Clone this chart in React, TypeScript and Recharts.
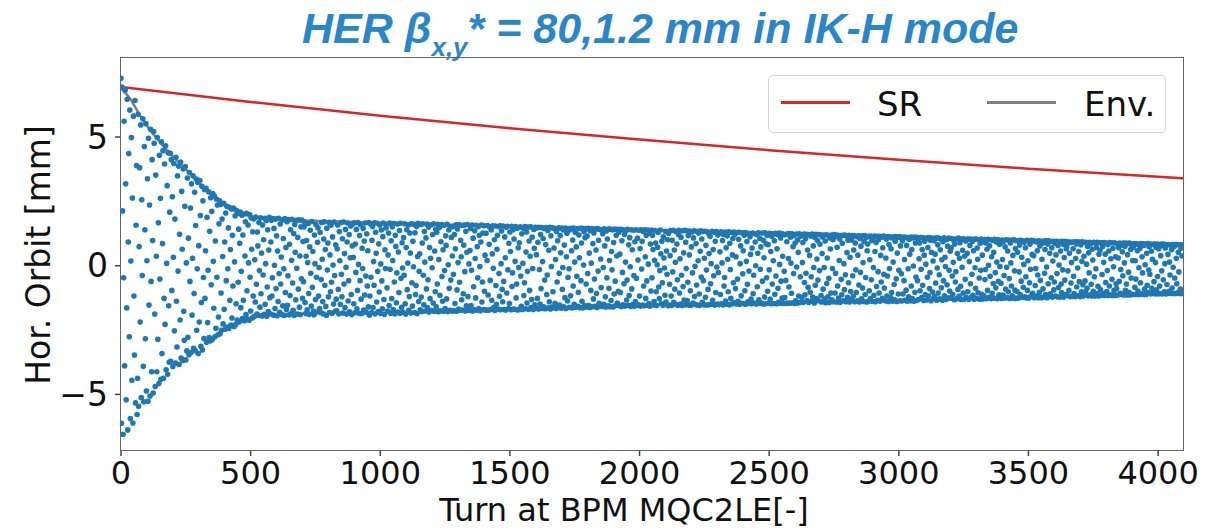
import { ComposedChart, Line, Scatter, XAxis, YAxis } from "recharts";

const xTicks = [0, 500, 1000, 1500, 2000, 2500, 3000, 3500, 4000];
const yTicks = [-5, 0, 5];

// synchrotron radiation damping curve
const srTurns = [0, 500, 1000, 1500, 2000, 2500, 3000, 3500, 4096];
const srOrbit = [6.94, 6.36, 5.83, 5.34, 4.9, 4.49, 4.12, 3.77, 3.4];

// envelope of the turn-by-turn orbit
const envTurns = [0, 35, 73, 110, 150, 200, 266, 343, 420, 498, 600, 700, 1115, 1500, 2000, 2620, 3000, 3500, 4096];
const envOrbit = [6.9, 6.49, 5.84, 5.3, 4.8, 4.25, 3.59, 2.81, 2.23, 1.92, 1.8, 1.76, 1.64, 1.52, 1.4, 1.25, 1.12, 0.98, 0.82];

// horizontal orbit at the BPM in 0.01 mm, one reading every second turn
const turnStep = 2;
const orbitHundredths = [
  728, -612, 694, 213, -655, -47, 561, -389, 682, 318, -521, -164, 647, -638, 92, 436, -276, 605, -594, 18, 498, -445, 263, -611, 581, -118, -347, 642, -533, 157, 389, -578,
  -437, 588, -546, 74, 381, -219, 547, -512, 256, -38, 571, -391, -529, 463, 140, -284, 552, -487, 19, 338, -527, 495, -153, 236, -506, 530, -61, -412, 412, 98, -495, 521,
  476, -188, -469, 352, 37, -412, 498, -286, 167, -458, 429, -52, 262, -441, 481, -341, 86, 447, -437, -127, 395, -228, 466, -404, 9, 311, -422, 439, -156, -375, 208, 437,
  -371, 412, -96, 268, -392, 33, 397, -253, 181, -378, 421, -138, -316, 349, -21, 387, -384, 122, -211, 403, -359, 289, 64, -368, 376, -177, -290, 231, 385, -366, 11, -331,
  341, -278, 107, -346, 362, -61, 224, -337, 318, -192, 29, 349, -321, -108, 285, -330, 156, 337, -251, -12, 324, -341, 78, -219, 331, 195, -313, -143, 309, -327, 252, -46,
  -283, 296, -127, 58, 301, -297, 188, -221, -18, 287, -279, 134, -292, 264, -74, 211, -287, 280, 17, -165, 271, -276, 96, -243, 259, -45, 236, -268, -199, 163, 252, -264,
  238, -106, -251, 181, 36, -226, 242, -169, 92, -247, 205, -58, 231, -238, -12, 147, -244, 227, -134, 63, -231, 220, -203, 118, -79, 224, -236, 15, 193, -229, -148, 214,
  -211, 203, -64, 142, -219, 87, 208, -163, -22, 196, -205, 119, -134, 201, -214, 38, 171, -190, 204, -97, -207, 158, 11, -212, 199, -45, -176, 186, 64, -203, 132, -118,
  182, -197, 23, -141, 189, -72, -188, 131, 77, -193, 168, -19, -161, 186, -109, 49, -195, 158, -36, 101, -189, 184, -150, 8, 176, -196, -83, 140, -178, 61, 188, -124,
  -187, 92, 177, -118, -47, 183, -192, 145, 2, -166, 181, -89, 116, -194, 57, -139, 184, -30, -181, 162, -71, 34, -190, 178, -156, 106, -12, -193, 183, -104, 71, -170,
  171, -154, -39, 179, -191, 83, -116, 140, -186, 21, 180, -67, -173, 125, -193, 160, 52, -132, 176, -10, -188, 110, -91, 178, -161, 38, -190, 151, -51, 177, -127, 94,
  -62, 151, 170, -143, -186, 37, 98, -171, 12, 164, -108, -189, 73, 138, -29, -157, 172, -84, 55, -176, -191, 119, 8, -131, 160, -45, -180, 91, 147, -118, -7, -166,
  129, -182, -54, 168, 25, -139, -187, 104, 171, -76, 63, -158, -193, 146, -17, 88, -121, 169, -182, 42, -101, 157, -64, -185, 112, 3, -149, 170, -38, -177, 81, -130,
  -175, 66, 158, -92, -187, 133, 19, -150, 168, -33, -121, 105, -184, 170, -71, 47, -163, 141, -6, -188, 92, 166, -137, -58, 121, -179, 31, 154, -112, -190, 77, 162,
  33, -148, 167, -183, 84, -26, 141, -167, -96, 168, 5, -185, 117, -58, 159, -130, -186, 68, -11, 145, -172, 96, -114, 166, -40, -181, 124, -79, 58, -160, 168, -192,
  -118, 163, -45, -183, 99, 152, -163, 16, -76, 167, -187, 130, 48, -141, 165, -22, -178, 85, -102, 158, -185, 7, 139, -59, -167, 113, 166, -131, -189, 62, -11, 147,
  160, -86, -176, 42, 127, -155, 166, -14, -185, 97, -128, 151, 20, -170, 164, -63, -187, 118, 75, -144, -28, 162, -180, 53, -104, 137, -185, 165, -49, -162, 89, -9,
  -181, 109, -37, 163, -148, -188, 71, 140, -93, 10, 158, -173, -120, 127, 49, -184, 163, -66, -157, 95, -4, 161, -182, 128, -112, -77, 152, -186, 36, 165, -139, -22,
  46, -171, 160, -122, -178, 88, 163, -37, -152, 133, 14, -176, 108, -90, 162, -163, -55, 150, -180, 71, -128, 29, 159, -174, -8, 121, -145, 163, -177, 57, -101, 141,
  -160, 130, -71, 161, -179, 24, 148, -115, -175, 93, 160, -42, -138, 62, -177, 157, -19, -166, 116, 79, -129, 161, -178, 4, 139, -88, -173, 151, -56, 110, -176, 38,
  152, -33, -175, 121, -147, 66, 159, -177, -94, 143, 12, -168, 160, -64, -174, 99, 35, -132, 156, -172, -109, 80, 158, -23, -176, 134, -156, 52, 160, -120, -171, 7,
  -174, 59, 145, -155, -18, 158, -176, 107, -82, -171, 136, 28, -125, 157, -173, 74, -47, 152, -166, 118, -3, -175, 92, 158, -141, -63, 127, -170, 155, -99, 41, -172,
  126, -172, 20, 156, -114, -173, 83, 150, -57, -170, 139, -134, 46, 155, -10, -163, 101, -174, 154, -77, -150, 64, 118, -168, 152, -30, -119, 155, -171, 8, 135, -92,
  -140, 154, -61, -170, 112, 31, -172, 149, -106, 153, -16, -166, 87, -147, 131, 55, -171, 153, -81, -28, 140, -168, 104, -169, 17, 152, -125, -71, 146, -172, 70, -7,
  89, -168, 151, -40, -158, 124, -170, 9, 146, -116, -66, 152, -167, 53, 131, -145, -22, 150, -169, 96, -96, 37, 151, -163, -131, 111, -11, -170, 141, 68, -152, 149,
  -165, 43, 147, -127, 91, -168, 149, -15, -149, 121, -89, 148, -166, 16, 106, -160, 145, -56, -167, 82, 148, -112, -36, 137, -164, 60, -140, 149, -168, 116, -3, -161,
  147, -101, -163, 69, 145, -146, 24, -166, 133, -63, 97, -162, 147, -29, -153, 117, 50, -165, 146, -92, -7, 139, -160, 80, -124, 146, -166, 35, 126, -137, -46, 144,
  -12, -162, 139, -117, 145, 58, -164, 100, -79, 146, -150, 14, 129, -161, 73, -41, 144, -158, -103, 119, 31, -163, 145, -58, 88, -138, 145, -164, 3, 132, -155, 109,
  144, -71, -160, 115, -30, 145, -155, 49, -162, 136, -96, 10, 144, -159, 86, -129, 127, -52, -158, 143, 61, -108, -162, 144, -21, 99, -146, 141, -157, 26, -85, 138,
  -158, 124, -7, -150, 143, 77, -121, -160, 135, -47, 104, -156, 142, -88, 20, -159, 142, -135, 55, -16, 139, -160, 90, -110, 142, -60, -155, 118, 38, -145, 141, -99,
  130, -156, 45, -104, 141, -158, 97, -26, -152, 140, -70, 121, -157, 14, 137, -133, -56, 141, -154, 81, -116, 109, -4, -158, 140, -90, 62, -151, 138, -38, -157, 93,
  -139, 140, -49, -155, 107, 22, -152, 138, -118, 67, -157, 140, -13, 95, -153, 133, -79, -156, 140, 35, -127, 118, -59, -154, 139, 6, -147, 126, -157, 84, -98, 139,
  -47, 118, 63, -152, -139, 21, 137, 88, -101, -155, 4, 72, 129, -83, -128, -19, 139, 46, -147, 95, -66, -154, 112, 30, -9, -115, 134, -141, 57, -33, 101, -156,
  126, -153, -72, 39, 137, -118, -155, 99, -24, 138, -142, 61, -91, 13, 133, -151, 84, -55, -154, 121, 138, -106, 27, -149, 110, -37, -155, 136, -81, 50, -133, 138,
  -152, 91, -11, 136, -135, -64, 117, -153, 42, 135, -97, -154, 73, 131, -28, -145, 108, 136, -120, -2, -151, 86, -75, 134, -153, 19, 127, -110, -154, 56, 136, -44,
  104, -142, 133, -58, -152, 29, 134, -123, 79, -17, -153, 132, -92, 125, 47, -151, 114, -70, 8, -150, 134, -134, 63, -39, 130, -153, 95, -104, 133, -5, -149, 119,
  -27, -151, 128, 54, -112, 132, -148, 11, 98, -152, 121, -79, -46, 131, -137, 70, -150, 116, 25, -101, 132, -152, 87, -15, -127, 129, -149, 42, 106, -66, 131, -144,
  122, -89, 35, -149, 129, -52, -138, 103, 130, -150, 8, 77, -117, -146, 128, -31, 58, -148, 118, -97, 129, -150, 17, 94, -72, -140, 126, -21, -147, 113, 44, -130,
  -148, 69, 127, -109, -37, 125, -145, 92, 0, -149, 121, -82, 48, 128, -132, -147, 106, -14, 73, -145, 127, -60, -149, 99, 31, -122, 128, -148, 85, -47, 118, -99,
  82, -146, -16, 126, -130, 55, -148, 114, -71, 124, 19, -147, 97, -111, 126, -40, -148, 66, 120, -88, -142, 127, 5, -146, 108, -60, 125, -126, 37, -147, 121, -22,
  -124, 120, -57, -147, 93, 124, -145, 28, -83, 125, -146, 111, 10, -107, 124, -144, 74, -30, 117, -147, 88, -136, 123, -5, -146, 100, 52, -118, 124, -143, -43, 115,
  118, -123, 12, 90, -142, 123, -65, -113, 105, -29, 122, -135, 61, -84, -143, 121, 40, -103, 115, -43, -138, 123, -122, 77, -7, -145, 110, -76, 122, -128, 26, 98,
  -56, -136, 121, -19, 83, 120, -116, -141, 47, 112, -91, 119, -7, -130, 96, -144, 120, -69, 30, -121, 118, -49, -143, 108, 65, -106, 119, -132, -11, 101, -140, 121,
  111, -106, -29, 119, -141, 72, -79, 118, -126, 20, 104, -142, 117, -53, -113, 87, 118, -136, 8, -93, 119, -35, -140, 115, 51, -123, 99, -66, 118, -141, 33, -100,
  -132, 100, 117, -39, -119, 61, 117, -140, 88, -16, -104, 113, -136, 41, 116, -75, -141, 106, -26, 76, -129, 116, -87, 12, -139, 94, 117, -112, -46, 110, -141, 58,
  84, -139, 114, -97, 23, -128, 115, -55, 98, -139, 107, -7, -115, 115, 55, -140, 90, -81, 114, -134, -23, 101, -106, 114, -138, 40, -63, 111, -127, 70, 115, -33,
  -87, 113, -137, 30, 104, -118, -40, 113, -139, 82, -11, 112, -124, 66, -104, 108, -138, 14, 112, -73, -132, 95, 113, -51, -139, 49, 110, -110, -18, 113, -136, 77,
  110, -31, -137, 97, -110, 111, -58, 24, -134, 110, -95, 79, -138, 109, -12, -121, 102, 45, -136, 111, -79, 63, -128, 108, -1, -138, 111, -103, 88, -44, -135, 110,
  -58, 104, -131, 27, 88, -97, 109, -14, -124, 63, -76, 108, -135, 41, 95, -112, 6, -133, 107, -45, 71, -118, 109, -89, -27, 99, -136, 52, 107, -102, 18, -128,
  97, -120, 45, -67, 108, -134, -9, 81, -106, 107, -35, -129, 62, 104, -86, 23, -134, 93, -58, 108, -117, 33, -3, -131, 101, -74, 76, -125, 107, -18, -98, 56,
  -126, 70, 106, -40, -111, 13, 99, -132, 84, -63, -23, 105, -128, 47, -92, 107, -119, 29, 89, -80, -131, 104, -6, 60, -106, 105, -130, 37, -53, 96, -123, 103,
  48, -101, 104, -130, 16, 79, -70, 104, -122, -33, 95, -115, 58, -130, 103, -8, -88, 104, -127, 69, 25, -105, 102, -48, -130, 87, -18, 104, -111, 41, -129, 93,
  -117, 102, -54, -15, 88, -128, 64, -96, 103, 2, -123, 77, -41, 101, -128, 35, -107, 99, -69, 52, -126, 103, -27, -86, 92, 14, -128, 102, -61, -113, 83, -3,
  86, -68, -127, 100, 24, -114, 95, -38, -125, 73, -91, 101, -6, -124, 57, -101, 100, -50, -127, 88, 11, -79, 99, -117, 40, -126, 101, -20, -95, 67, -127, 97,
  -100, 52, 98, -125, -24, 80, -112, 99, -60, 33, -123, 97, -84, 5, 91, -121, 70, -43, -125, 99, -96, 19, 98, -125, -66, 83, -14, -118, 99, 44, -107, 97,
  39, -124, 96, -77, -11, 92, -118, 58, -36, -124, 97, -103, 77, -57, 95, -124, 25, 87, -90, -122, 96, -29, 63, -112, 97, -5, -124, 84, -70, 97, -119, 48,
  -109, 94, -47, 70, -122, 18, 95, -94, -63, 87, -118, 42, 95, -30, -121, 79, -85, 3, 94, -122, 57, -71, -104, 95, -16, 83, -122, 32, -56, 95, -112, 66,
  75, -115, -20, 93, -96, 48, -120, 90, -67, 12, 92, -119, 66, -41, -108, 93, -120, 28, 84, -83, 93, -9, -117, 55, -62, 92, -120, 81, -101, 17, 93, -74,
  -118, 37, 90, -59, -101, 91, 6, -88, 76, -117, 50, -28, 91, -113, 85, -72, -118, 64, 22, -99, 91, -43, -118, 88, -12, 71, -108, 91, -80, -118, 45, 89,
  60, -93, -116, 89, -34, 74, -108, 13, 90, -116, 45, -65, 88, -100, -19, 82, -116, 57, -79, 90, -113, 27, 89, -53, -116, 68, -4, -96, 89, -116, 35, -70,
  -89, 86, -114, 30, 70, -61, 88, -107, -15, 80, -112, 54, -39, 88, -114, 11, 76, -96, 88, -71, -114, 43, 86, -25, -103, 88, -114, 63, -48, 82, -111, 20,
  72, -112, 86, -84, 19, -52, 85, -112, 58, -98, 83, -8, -112, 67, -66, 86, -109, 35, -28, 85, -112, 79, -91, 4, 84, -112, 48, -76, 86, -104, -17, 74,
  -33, 84, -110, 56, -88, 25, 83, -105, -62, 84, -110, 12, 72, -94, 84, -42, -110, 66, 82, -79, -108, 39, 84, -20, -110, 78, -55, 84, -101, 8, 69, -110,
  81, -73, -108, 44, 82, -99, 14, -36, 80, -108, 62, -87, 82, -6, -108, 75, -48, 82, -108, 29, -70, 82, -104, 52, -24, -108, 81, -91, 68, -108, 38, 81,
];

const scatterData = orbitHundredths.map((v, i) => ({ x: i * turnStep, y: v / 100 }));
const srData = srTurns.map((t, i) => ({ x: t, y: srOrbit[i] }));
const envData = envTurns.map((t, i) => ({ x: t, y: envOrbit[i] }));

const FONT = "DejaVu Sans, sans-serif";
const TITLE_BLUE = "#2a86c8";

const Dot = (props: any) => <circle cx={props.cx} cy={props.cy} r={2.8} fill="#1f77b4" />;

const XTitle = () => (
  <text x={624} y={521} textAnchor="middle" fontSize={32} fontFamily={FONT} fill="#111">
    Turn at BPM MQC2LE[-]
  </text>
);

const YTitle = () => (
  <text
    x={38}
    y={255}
    transform="rotate(-90, 38, 255)"
    textAnchor="middle"
    dominantBaseline="central"
    fontSize={33}
    fontFamily={FONT}
    fill="#111"
  >
    Hor. Orbit [mm]
  </text>
);

function Legend() {
  const label = { position: "absolute" as const, top: 11, fontSize: 34, lineHeight: "34px", fontFamily: FONT, color: "#111" };
  return (
    <div
      style={{
        position: "absolute",
        left: 768,
        top: 75,
        width: 398,
        height: 58,
        boxSizing: "border-box",
        border: "1px solid #d4d4d4",
        borderRadius: 5,
        background: "rgba(255,255,255,0.85)",
      }}
    >
      <div style={{ position: "absolute", left: 12, top: 25, width: 69, height: 2.5, background: "#d62728" }} />
      <div style={{ ...label, left: 108 }}>SR</div>
      <div style={{ position: "absolute", left: 218, top: 25, width: 69, height: 2.5, background: "#7f7f7f" }} />
      <div style={{ ...label, left: 315 }}>Env.</div>
    </div>
  );
}

export default function App() {
  return (
    <div style={{ position: "absolute", left: 0, top: 0, width: 1207, height: 529, background: "#fff" }}>
      <div
        style={{
          position: "absolute",
          left: 302,
          top: 7,
          whiteSpace: "nowrap",
          fontFamily: "Liberation Sans, Arial, sans-serif",
          fontWeight: 700,
          fontStyle: "italic",
          fontSize: 43,
          lineHeight: "43px",
          color: TITLE_BLUE,
        }}
      >
        HER β<span style={{ fontSize: 26, position: "relative", top: 13 }}>x,y</span>* = 80,1.2 mm in IK-H mode
      </div>
      <ComposedChart width={1207} height={529} margin={{ top: 58, right: 24, bottom: 0, left: 0 }}>
        <XAxis
          dataKey="x"
          type="number"
          domain={[0, 4096]}
          allowDataOverflow
          ticks={xTicks}
          interval={0}
          height={79}
          axisLine={false}
          tickSize={6}
          tickMargin={5}
          tickLine={{ stroke: "#444", strokeWidth: 1.5 }}
          tick={{ fontSize: 32, fill: "#111", fontFamily: FONT }}
          label={<XTitle />}
        />
        <YAxis
          dataKey="y"
          type="number"
          domain={[-7.16, 8.07]}
          allowDataOverflow
          ticks={yTicks}
          interval={0}
          width={121}
          axisLine={false}
          tickSize={6}
          tickMargin={7}
          tickLine={{ stroke: "#444", strokeWidth: 1.5 }}
          tick={{ fontSize: 33, fill: "#111", fontFamily: FONT }}
          tickFormatter={(v: number) => (v < 0 ? `\u2212${Math.abs(v)}` : `${v}`)}
          label={<YTitle />}
        />
        <Scatter data={scatterData} dataKey="y" shape={Dot} isAnimationActive={false} />
        <Line data={srData} dataKey="y" type="monotone" stroke="#d62728" strokeWidth={2.5} dot={false} isAnimationActive={false} />
        <Line data={envData} dataKey="y" type="monotone" stroke="#7f7f7f" strokeWidth={2.5} dot={false} isAnimationActive={false} />
      </ComposedChart>
      <div
        style={{
          position: "absolute",
          left: 120,
          top: 57,
          width: 1064,
          height: 394,
          boxSizing: "border-box",
          border: "1.5px solid #666",
          pointerEvents: "none",
        }}
      />
      <Legend />
    </div>
  );
}
